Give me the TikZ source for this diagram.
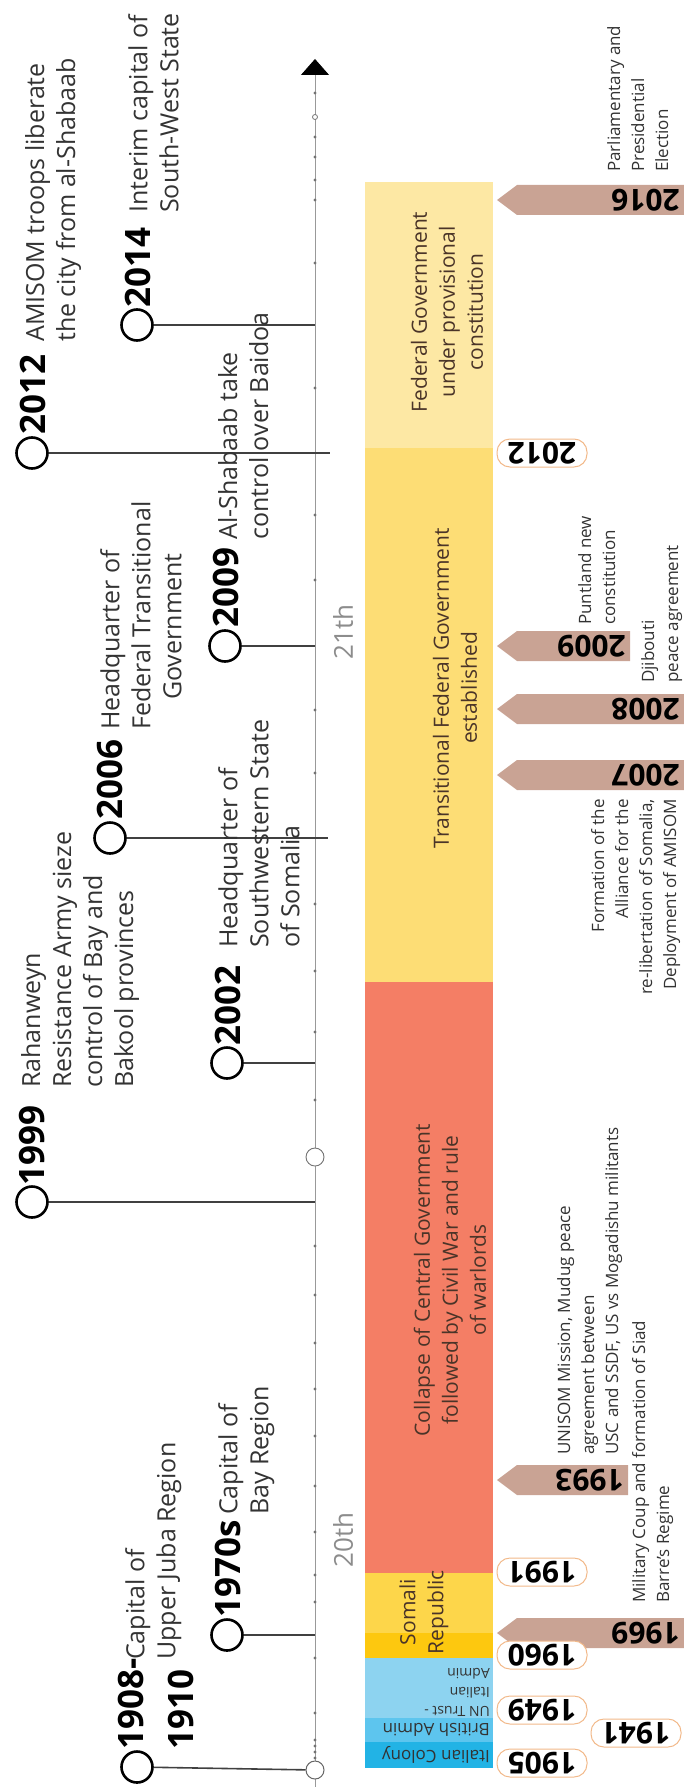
\documentclass[tikz,border=0pt]{standalone}
\usepackage{fontspec}
\setmainfont{Open Sans}
\usetikzlibrary{arrows.meta}

\definecolor{italcol}{HTML}{22B3E5}
\definecolor{britcol}{HTML}{5DC5EE}
\definecolor{untcol}{HTML}{8DD3F0}
\definecolor{goldcol}{HTML}{FDC80F}
\definecolor{somcol}{HTML}{FDD64A}
\definecolor{redcol}{HTML}{F47E65}
\definecolor{tfgcol}{HTML}{FDDD75}
\definecolor{fedcol}{HTML}{FDE8A4}
\definecolor{tagcol}{HTML}{C9A394}
\definecolor{pillcol}{HTML}{F2B98A}
\definecolor{bartext}{HTML}{4A3428}

\tikzset{
  evdot/.style={circle, draw=black, line width=2.6pt, minimum size=31pt, inner sep=0pt, fill=white},
  evline/.style={draw=black!75, line width=1.6pt},
  evyear/.style={rotate=90, anchor=west, inner sep=0pt, font=\fontsize{35}{50}\selectfont\bfseries},
  evtext/.style={rotate=90, anchor=north west, inner sep=0pt, align=left, text=black!80, font=\fontsize{25}{31}\selectfont},
  bartxt/.style={rotate=90, inner sep=0pt, align=center, text=bartext, font=\fontsize{21}{28}\selectfont},
  bluetxt/.style={rotate=180, anchor=west, inner sep=0pt, align=left, text=black!80, font=\fontsize{17}{19}\selectfont},
  pill/.style={draw=pillcol, line width=1pt, fill=white, rounded corners=13pt, minimum width=90pt, minimum height=28pt, inner sep=0pt, rotate=180, font=\fontsize{30}{30}\selectfont\bfseries},
  tagyear/.style={rotate=180, anchor=west, inner sep=0pt, font=\fontsize{30}{30}\selectfont\bfseries},
  note/.style={rotate=90, anchor=north west, inner sep=0pt, align=left, text=black!80, font=\fontsize{17}{24}\selectfont},
  century/.style={rotate=90, inner sep=0pt, text=black!45, font=\fontsize{26}{26}\selectfont},
  axisline/.style={draw=black!40, line width=0.8pt},
}

\begin{document}
\begin{tikzpicture}[x=1pt, y=-1pt]
\useasboundingbox (0,0) rectangle (684,1787);

% axis
\draw[axisline, -{Triangle[width=28pt, length=16pt, black]}] (315,1787) -- (315,59);
\foreach \ty in {93,137,157,180,200,263,388,515,580,710,773,904,971,1032,1100,1246,1295,1343,1389,1436,1486,1532,1575,1602,1658,1713,1740,1746,1752,1758}
  \fill[black!55] (315,\ty) circle (1.6pt);
\draw[black!55, line width=0.8pt, fill=white] (315,117) circle (2.5pt);
\node[circle, draw=black!55, line width=0.9pt, fill=white, minimum size=18pt, inner sep=0pt] (mid) at (315,1157) {};
\node[circle, draw=black!60, line width=1pt, fill=white, minimum size=18pt, inner sep=0pt] (start) at (315,1770) {};

\node[century] (c21) at (343,632) {21th};
\node[century] (c20) at (343,1540) {20th};

% periods
\fill[fedcol] (365,182) rectangle (493,448);
\fill[tfgcol] (365,448) rectangle (493,982);
\fill[redcol] (365,982) rectangle (493,1573);
\fill[somcol] (365,1573) rectangle (493,1633);
\fill[goldcol] (365,1633) rectangle (493,1658);
\fill[untcol] (365,1658) rectangle (493,1718);
\fill[britcol] (365,1718) rectangle (493,1742);
\fill[italcol] (365,1742) rectangle (493,1768);

\node[bartxt] (fed) at (447,312) {Federal Government\\under provisional\\constitution};
\node[bartxt] (tfg) at (455,688) {Transitional Federal Government\\established};
\node[bartxt] (collapse) at (450,1280) {Collapse of Central Government\\followed by Civil War and rule\\of warlords};
\node[bartxt] (somrep) at (424,1612) {Somali\\Republic};
\node[bluetxt, anchor=north west, font=\fontsize{14}{19}\selectfont] (untrust) at (490,1717) {UN Trust -\\Italian\\Admin};
\node[bluetxt] (british) at (490,1730) {British Admin};
\node[bluetxt] (italian) at (490,1755) {Italian Colony};

% arrow tags
\foreach \yr/\yc/\xe in {2016/200/684, 2009/646/630, 2008/709/684, 2007/775/684, 1993/1480/628, 1969/1633/684} {
  \fill[tagcol] (497,\yc) -- (517,\yc-15) -- (\xe,\yc-15) -- (\xe,\yc+15) -- (517,\yc+15) -- cycle;
  \node[tagyear] (tag\yr) at (\xe-4,\yc) {\yr};
}

% year pills
\node[pill] (p1905) at (542,1763) {1905};
\node[pill] (p1941) at (636,1733) {1941};
\node[pill] (p1949) at (542,1710) {1949};
\node[pill] (p1960) at (542,1655) {1960};
\node[pill] (p1991) at (542,1572) {1991};
\node[pill] (p2012) at (542,453) {2012};

% notes
\node[note] (n2016) at (607,172) {Parliamentary and\\Presidential\\Election};
\node[note] (n2009) at (578,625) {Puntland new\\constitution};
\node[note] (n2008) at (641,683) {Djibouti\\peace agreement};
\node[note, anchor=north east, align=right] (n2007) at (591,799) {Formation of the\\Alliance for the\\re-libertation of Somalia,\\Deployment of AMISOM};
\node[note] (n1993) at (557,1455) {UNISOM Mission, Mudug peace\\agreement between\\USC and SSDF, US vs Mogadishu militants};
\node[note] (n1969) at (632,1603) {Military Coup and formation of Siad\\Barre's Regime};

% events
\node[evdot] (e2012) at (32,453) {};
\node[evdot] (e2014) at (137,325) {};
\node[evdot] (e2009) at (225,646) {};
\node[evdot] (e2006) at (110,838) {};
\node[evdot] (e2002) at (227,1063) {};
\node[evdot] (e1999) at (32,1202) {};
\node[evdot] (e1970) at (227,1635) {};
\node[evdot] (e1908) at (137,1767) {};

\coordinate (a2012) at (330,453);
\coordinate (a2014) at (315,325);
\coordinate (a2009) at (315,646);
\coordinate (a2006) at (328,838);
\coordinate (a2002) at (315,1063);
\coordinate (a1999) at (315,1202);
\coordinate (a1970) at (315,1635);

\draw[evline] (e2012) -- (a2012);
\draw[evline] (e2014) -- (a2014);
\draw[evline] (e2009) -- (a2009);
\draw[evline] (e2006) -- (a2006);
\draw[evline] (e2002) -- (a2002);
\draw[evline] (e1999) -- (a1999);
\draw[evline] (e1970) -- (a1970);
\draw[evline] (e1908) -- (start);

\node[evyear] (y2012) at (33,435) {2012};
\node[evyear] (y2014) at (138,308) {2014};
\node[evyear] (y2009) at (226,628) {2009};
\node[evyear] (y2006) at (110,820) {2006};
\node[evyear] (y2002) at (228,1046) {2002};
\node[evyear] (y1999) at (32,1186) {1999};
\node[evyear] (y1970) at (228,1618) {1970s};
\node[evyear, anchor=north west, align=left] (y1908) at (118,1750) {1908-\\1910};

\node[evtext] (t2012) at (25,342) {AMISOM troops liberate\\the city from al-Shabaab};
\node[evtext] (t2014) at (128,213) {Interim capital of\\South-West State};
\node[evtext] (t2009) at (218,540) {Al-Shabaab take\\control over Baidoa};
\node[evtext] (t2006) at (100,730) {Headquarter of\\Federal Transitional\\\hspace*{1.2em}Government};
\node[evtext] (t2002) at (218,948) {Headquarter of\\Southwestern State\\of Somalia};
\node[evtext] (t1999) at (21,1088) {Rahanweyn\\Resistance Army sieze\\control of Bay and\\Bakool provinces};
\node[evtext] (t1970) at (218,1515) {Capital of\\Bay Region};
\node[evtext] (t1908) at (125,1660) {Capital of\\Upper Juba Region};
\end{tikzpicture}
\end{document}
